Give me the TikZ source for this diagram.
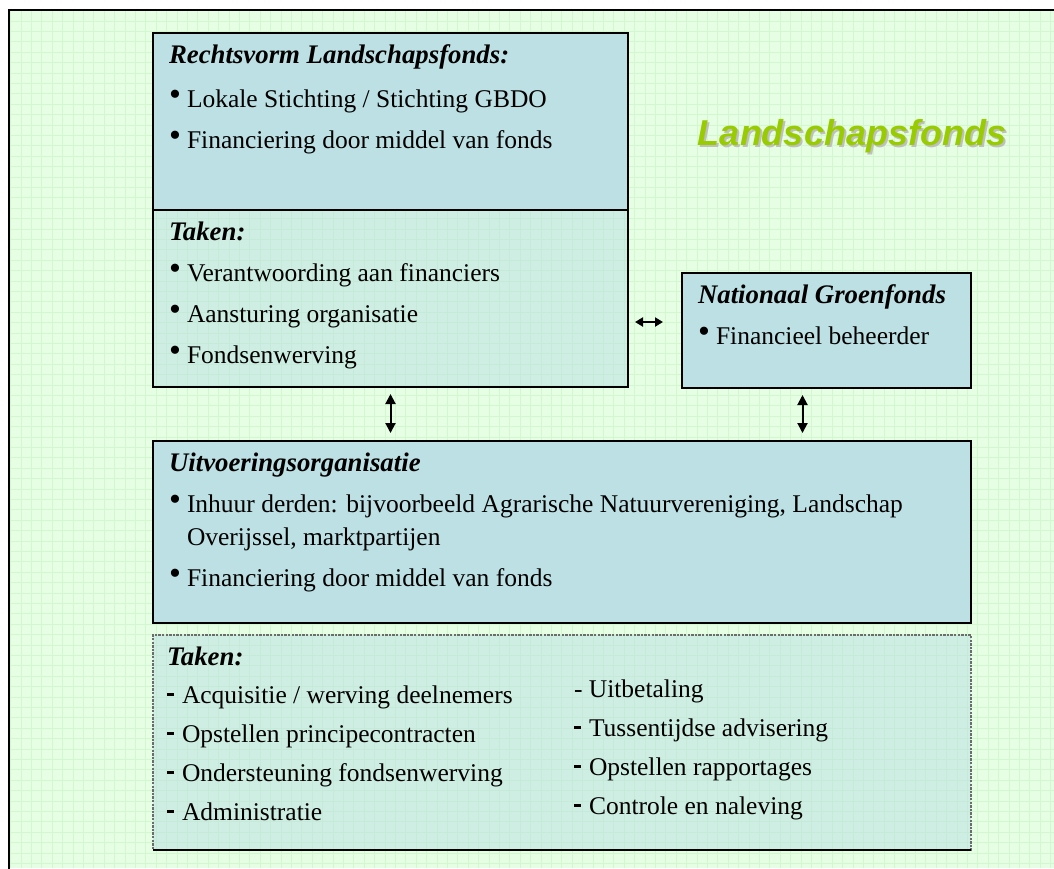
\documentclass[tikz,border=0pt]{standalone}
\usepackage{fontspec}
\setmainfont{Liberation Serif}
\newfontfamily\titlefont{Liberation Sans}
\usetikzlibrary{positioning, arrows.meta}

\definecolor{paper}{HTML}{E6FFE4}
\definecolor{gridgreen}{HTML}{D2F8CE}
\definecolor{boxblue}{HTML}{BCE0E3}
\definecolor{titlegreen}{HTML}{99CC00}

\newcommand{\boxtext}[3]{\parbox[c][#2][t]{#1}{\raggedright\fontsize{12.75pt}{20.5pt}\selectfont\rule{0pt}{15pt}#3}}
\newcommand{\kop}[1]{{\fontsize{13.4pt}{20.5pt}\selectfont\bfseries\itshape #1}}
\newcommand{\bul}{\makebox[9pt][l]{\raisebox{1pt}{\fontsize{17pt}{17pt}\selectfont\textbullet}}}
\newcommand{\dsh}{\makebox[7.5pt][l]{\raisebox{3.6pt}{\rule{3.6pt}{1.2pt}}}}

\begin{document}
\begin{tikzpicture}[x=0.5pt, y=-0.5pt,
	box/.style={draw, line width=1pt, fill=boxblue, inner xsep=8pt, inner ysep=0pt, outer sep=0pt},
	seebox/.style={box, fill opacity=0.55, text opacity=1},
	link/.style={{Triangle[width=5pt,length=5pt]}-{Triangle[width=5pt,length=5pt]}, line width=1pt},
	smalllink/.style={{Triangle[width=4.5pt,length=4pt]}-{Triangle[width=4.5pt,length=4pt]}, line width=1pt}]
			\useasboundingbox (0,0) rectangle (1054,868);
			\clip (0,0) rectangle (1054,868);
			\fill[white] (0,0) rectangle (1054,868);
			\fill[paper] (9,10) rectangle (1054,868);
			\draw[gridgreen, line width=0.3pt, step=5.2pt] (9,10) grid (1054,868);
			\draw[line width=1pt] (9,10) rectangle (1080,900);
			
			\node (rechts) at (390.5,121.5) [box] {\boxtext{221.5pt}{88.5pt}{\kop{Rechtsvorm Landschapsfonds:}\\[1.5pt] \bul Lokale Stichting / Stichting GBDO\\ \bul Financiering door middel van fonds}};
			\node (taken) at (390.5,298.5) [seebox] {\boxtext{221.5pt}{88.5pt}{\kop{Taken:}\\ \bul Verantwoording aan financiers\\ \bul Aansturing organisatie\\ \bul Fondsenwerving}};
			\node (groen) at (826.5,330.5) [box] {\boxtext{128.5pt}{57.5pt}{\kop{Nationaal Groenfonds}\\ \bul Financieel beheerder}};
			\node (uitv) at (562,532) [box] {\boxtext{393pt}{91pt}{\kop{Uitvoeringsorganisatie}\\ \bul Inhuur derden: bijvoorbeeld Agrarische Natuurvereniging, Landschap\\[-4pt] \hspace*{9pt}Overijssel, marktpartijen\\ \bul Financiering door middel van fonds}};
			\node (taken2) at (562,742.5) [seebox, draw=gray!85!black, line width=1.4pt, dash pattern=on 1.2pt off 0.6pt, inner xsep=7pt] {\boxtext{395pt}{107.5pt}{\kop{Taken:}\\[-1.5pt]%
				\parbox[t]{200.5pt}{\fontsize{12.75pt}{19.5pt}\selectfont\dsh Acquisitie / werving deelnemers\\ \dsh Opstellen principecontracten\\ \dsh Ondersteuning fondsenwerving\\ \dsh Administratie}\hspace{3pt}%
				\raisebox{3pt}{\parbox[t]{180pt}{\fontsize{12.75pt}{19.5pt}\selectfont - Uitbetaling\\ \dsh Tussentijdse advisering\\ \dsh Opstellen rapportages\\ \dsh Controle en naleving}}}};
			\draw[line width=1.2pt] (taken2.south west) -- (taken2.south east);
			
			\node (titelschaduw) at (854,147) [anchor=base, text=gray!50] {\titlefont\bfseries\itshape\fontsize{18pt}{20pt}\selectfont Landschapsfonds};
			\node (titel) at (852,145) [anchor=base, text=titlegreen] {\titlefont\bfseries\itshape\fontsize{18pt}{20pt}\selectfont Landschapsfonds};
			
			\draw[smalllink, shorten <=3.5pt, shorten >=9.5pt] ([yshift=4.25pt]groen.west -| taken.east) to ([yshift=4.25pt]groen.west);
			\draw[link, shorten <=3.5pt, shorten >=4pt] (taken.south) to (taken.south |- uitv.north);
			\draw[link, shorten <=3.5pt, shorten >=4pt] ([xshift=-12pt]groen.south) to ([xshift=-12pt]groen.south |- uitv.north);
		\end{tikzpicture}
\end{document}
